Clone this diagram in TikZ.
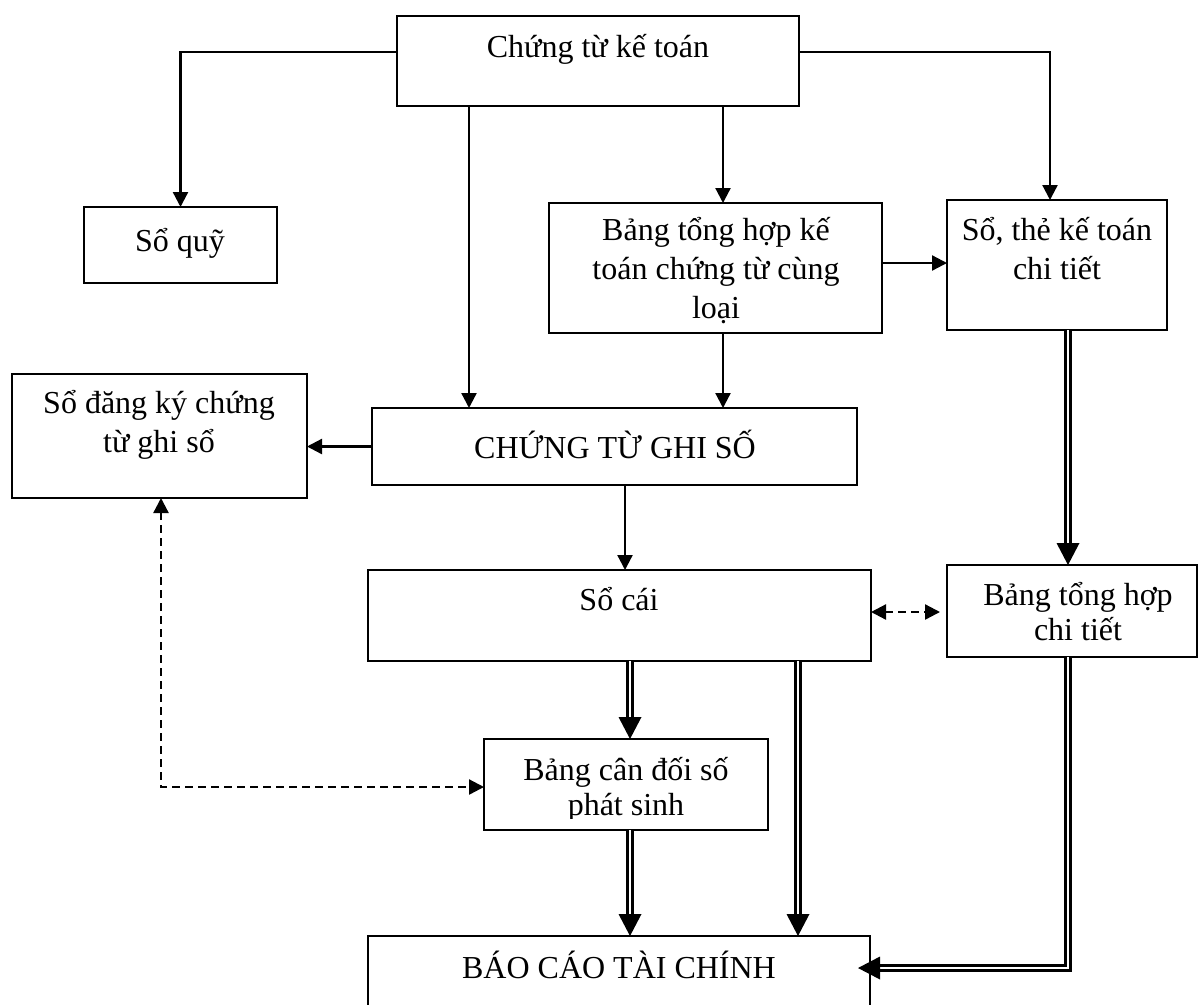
\documentclass[tikz,border=0pt]{standalone}
\usepackage{fontspec}
\setmainfont{Liberation Serif}
\usetikzlibrary{arrows.meta,decorations.markings}
\begin{document}
\begin{tikzpicture}[x=1pt,y=-1pt,
  box/.style={draw, line width=2.3pt, inner sep=0pt, outer sep=0pt},
  txt/.style={anchor=base, inner sep=0pt, font=\fontsize{32}{38}\selectfont},
  arr/.style={line width=2.3pt, -{Triangle[width=15pt,length=15pt]}},
  darr/.style={line width=2.3pt, dash pattern=on 8pt off 5pt, {Triangle[width=15pt,length=15pt]}-{Triangle[width=15pt,length=15pt]}},
  dbl/.style={line width=2.2pt, double=white, double distance=2.8pt, shorten >=18pt,
    postaction={decorate, decoration={markings, mark=at position 1 with {\fill (0pt,0pt) -- (-22pt,11.5pt) -- (-22pt,-11.5pt) -- cycle;}}}}
]
\useasboundingbox (0,0) rectangle (1198,1004);
\clip (0,0) rectangle (1198,1004);

% boxes
\node[box, minimum width=402pt, minimum height=90pt] (a) at (598,61) {};
\node[box, minimum width=193pt, minimum height=76pt] (sq) at (180.5,245) {};
\node[box, minimum width=333pt, minimum height=130pt] (bth) at (715.5,268) {};
\node[box, minimum width=220pt, minimum height=130pt] (st) at (1057,265) {};
\node[box, minimum width=295pt, minimum height=124pt] (sdk) at (159.5,436) {};
\node[box, minimum width=485pt, minimum height=77pt] (ctgs) at (614.5,446.5) {};
\node[box, minimum width=503pt, minimum height=91pt] (sc) at (619.5,615.5) {};
\node[box, minimum width=250pt, minimum height=92pt] (thct) at (1072,611) {};
\node[box, minimum width=284pt, minimum height=91pt] (bcd) at (626,784.5) {};
\node[box, minimum width=502pt, minimum height=74pt] (bctc) at (619,973) {};

% texts
\node[txt] (ta) at (598,57) {Chứng từ kế toán};
\node[txt] (tsq) at (180,251) {Sổ quỹ};
\node[txt] (tbth1) at (716,240) {Bảng tổng hợp kế};
\node[txt] (tbth2) at (716,279) {toán chứng từ cùng};
\node[txt] (tbth3) at (716,318) {loại};
\node[txt] (tst1) at (1057,240) {Sổ, thẻ kế toán};
\node[txt] (tst2) at (1057,279) {chi tiết};
\node[txt] (tsdk1) at (159,413) {Sổ đăng ký chứng};
\node[txt] (tsdk2) at (159,452) {từ ghi sổ};
\node[txt] (tctgs) at (615,458) {CHỨNG TỪ GHI SỐ};
\node[txt] (tsc) at (619,610) {Sổ cái};
\node[txt] (tthct1) at (1078,605) {Bảng tổng hợp};
\node[txt] (tthct2) at (1078,640) {chi tiết};
\node[txt] (tbcd1) at (626,780) {Bảng cân đối số};
\begin{scope}
  \clip (bcd.north west) rectangle (bcd.east |- 0,818);
  \node[txt] (tbcd2) at (626,815) {phát sinh};
\end{scope}
\node[txt] (tbctc) at (619,978) {BÁO CÁO TÀI CHÍNH};

% helper coordinates
\coordinate (x161) at (161,0);
\coordinate (x469) at (469,0);
\coordinate (x625) at (625,0);
\coordinate (x630) at (630,0);
\coordinate (x723) at (723,0);
\coordinate (x798) at (798,0);
\coordinate (x1050) at (1050,0);
\coordinate (x1068) at (1068,0);
\coordinate (y52) at (0,52);
\coordinate (y263) at (0,263);
\coordinate (y612) at (0,612);
\coordinate (y787) at (0,787);
\coordinate (y968) at (0,968);

% single arrows
\draw[arr] (a.west |- y52) -| (sq.north);
\draw[arr] (a.east |- y52) -| (st.north -| x1050);
\draw[arr] (a.south -| x469) -- (ctgs.north -| x469);
\draw[arr] (a.south -| x723) -- (bth.north -| x723);
\draw[arr] (bth.east |- y263) -- (st.west |- y263);
\draw[arr] (bth.south -| x723) -- (ctgs.north -| x723);
\draw[arr] (ctgs.west) -- (ctgs.west -| sdk.east);
\draw[arr] (ctgs.south -| x625) -- (sc.north -| x625);

% dashed arrows
\draw[darr, shorten >=7pt] (sc.east |- y612) -- (thct.west |- y612);
\draw[darr] (sdk.south -| x161) |- (bcd.west |- y787);

% double arrows
\draw[dbl] (st.south -| x1068) -- (thct.north -| x1068);
\draw[dbl] (sc.south -| x630) -- (bcd.north -| x630);
\draw[dbl] (sc.south -| x798) -- (bctc.north -| x798);
\draw[dbl] (bcd.south -| x630) -- (bctc.north -| x630);
\draw[dbl] (thct.south -| x1068) |- ([xshift=-12pt]bctc.east |- y968);
\end{tikzpicture}
\end{document}
